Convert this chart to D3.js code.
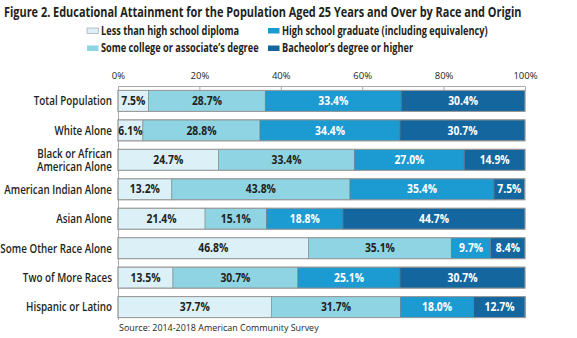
<!DOCTYPE html>
<html>
<head>
<meta charset="utf-8">
<script src="https://cdn.jsdelivr.net/npm/d3@7"></script>
<style>
  body { margin: 0; background: #fff; }
  svg { display: block; font-family: "Open Sans", sans-serif; }
</style>
</head>
<body>
<div id="chart"></div>
<script>
const categories = ["Total Population", "White Alone", "Black or African|American Alone",
  "American Indian Alone", "Asian Alone", "Some Other Race Alone", "Two of More Races", "Hispanic or Latino"];
const lessThanHS = [7.5, 6.1, 24.7, 13.2, 21.4, 46.8, 13.5, 37.7];
const someCollege = [28.7, 28.8, 33.4, 43.8, 15.1, 35.1, 30.7, 31.7];
const hsGraduate = [33.4, 34.4, 27.0, 35.4, 18.8, 9.7, 25.1, 18.0];
const bachelor = [30.4, 30.7, 14.9, 7.5, 44.7, 8.4, 30.7, 12.7];
const seriesNames = ["Less than high school diploma", "Some college or associate\u2019s degree",
  "High school graduate (including equivalency)", "Bacheolor\u2019s degree or higher"];
const colors = ["#dcf0f8", "#8ed4e3", "#1b9bd1", "#13679e"];
const textColors = ["#231f20", "#231f20", "#fff", "#fff"];
const ticks = [0, 20, 40, 60, 80, 100];

const width = 577, height = 338;
const svg = d3.select("#chart").append("svg")
  .attr("width", width).attr("height", height);

// title, squeezed horizontally to a condensed width
const title = svg.append("text")
  .style("font-size", "15px").style("font-weight", 700).style("fill", "#231f20")
  .text("Figure 2. Educational Attainment for the Population Aged 25 Years and Over by Race and Origin");
const titleLen = title.node().getComputedTextLength();
title.attr("transform", "translate(4,17) scale(" + (518 / titleLen) + ",1)");

const rows = categories.map(function (c, i) {
  return { cat: c, vals: [lessThanHS[i], someCollege[i], hsGraduate[i], bachelor[i]] };
});

const x = d3.scaleLinear().domain([0, 100]).range([118, 525]);
const y = d3.scaleBand().domain(categories).range([86, 322]).paddingInner(0.287).paddingOuter(0.149);

// legend, two columns
const legendPos = [[87, 30.5], [87, 48], [268, 30.5], [268, 48]];
const legend = svg.selectAll(".legend")
  .data(seriesNames).join("g")
  .attr("transform", function (d, i) { return "translate(" + legendPos[i][0] + "," + legendPos[i][1] + ")"; });
legend.append("rect")
  .attr("x", 0).attr("y", -2.5).attr("width", 11.5).attr("height", 5.5)
  .attr("fill", function (d, i) { return colors[i]; })
  .attr("stroke", function (d, i) { return i == 0 ? "#999" : "none"; })
  .attr("stroke-width", 0.6);
legend.append("text")
  .attr("transform", "translate(14,0) scale(0.8,1)")
  .attr("dy", "0.36em")
  .style("font-size", "11.5px").style("font-weight", 700).style("fill", "#231f20")
  .text(function (d) { return d; });

// top axis, ticks pointing down
const axis = svg.append("g")
  .attr("transform", "translate(0,86.5)")
  .call(d3.axisTop(x).tickValues(ticks).tickSize(-4).tickPadding(8).tickFormat(function (d) { return d + "%"; }));
axis.select(".domain").attr("stroke", "#aaa").attr("d", "M118.5,0H525");
axis.selectAll(".tick line").attr("stroke", "#aaa");
axis.selectAll(".tick text").style("font-size", "9.5px").style("fill", "#231f20").style("font-family", "Open Sans");

svg.append("line")
  .attr("x1", 118.5).attr("x2", 118.5).attr("y1", 86).attr("y2", 320)
  .attr("stroke", "#aaa");

const row = svg.selectAll(".row")
  .data(rows).join("g")
  .attr("transform", function (d) { return "translate(0," + y(d.cat) + ")"; });

function segments(d) {
  let acc = 0;
  return d.vals.map(function (v, k) { const s = { v: v, k: k, x0: acc }; acc += v; return s; });
}

row.selectAll("rect")
  .data(segments)
  .join("rect")
  .attr("x", function (d) { return x(d.x0); })
  .attr("width", function (d) { return x(d.x0 + d.v) - x(d.x0); })
  .attr("height", y.bandwidth())
  .attr("fill", function (d) { return colors[d.k]; })
  .attr("stroke", "rgba(110,110,110,0.55)")
  .attr("stroke-width", 0.8);

row.append("rect")
  .attr("x", x(0)).attr("width", x(100) - x(0)).attr("height", y.bandwidth())
  .attr("fill", "none").attr("stroke", "#999").attr("stroke-width", 1);

row.selectAll(".val")
  .data(segments)
  .join("text")
  .attr("transform", function (d) { return "translate(" + x(d.x0 + d.v / 2) + "," + (y.bandwidth() / 2) + ") scale(0.9,1)"; })
  .attr("dy", "0.36em")
  .attr("text-anchor", "middle")
  .style("font-size", "11.5px").style("font-weight", 700)
  .style("fill", function (d) { return textColors[d.k]; })
  .text(function (d) { return d.v.toFixed(1) + "%"; });

// category labels, right aligned against the axis
row.append("text")
  .attr("transform", "translate(112," + (y.bandwidth() / 2) + ") scale(0.82,1)")
  .attr("text-anchor", "end")
  .style("font-size", "12px").style("font-weight", 600).style("fill", "#231f20")
  .each(function (d) {
    const lines = d.cat.split("|");
    const t = d3.select(this);
    lines.forEach(function (l, j) {
      t.append("tspan")
        .attr("x", 0)
        .attr("y", (j - (lines.length - 1) / 2) * 13)
        .attr("dy", "0.36em")
        .text(l);
    });
  });

svg.append("text")
  .attr("transform", "translate(119,331) scale(0.94,1)")
  .style("font-size", "9.5px").style("fill", "#231f20")
  .text("Source: 2014-2018 American Community Survey");
</script>
</body>
</html>
